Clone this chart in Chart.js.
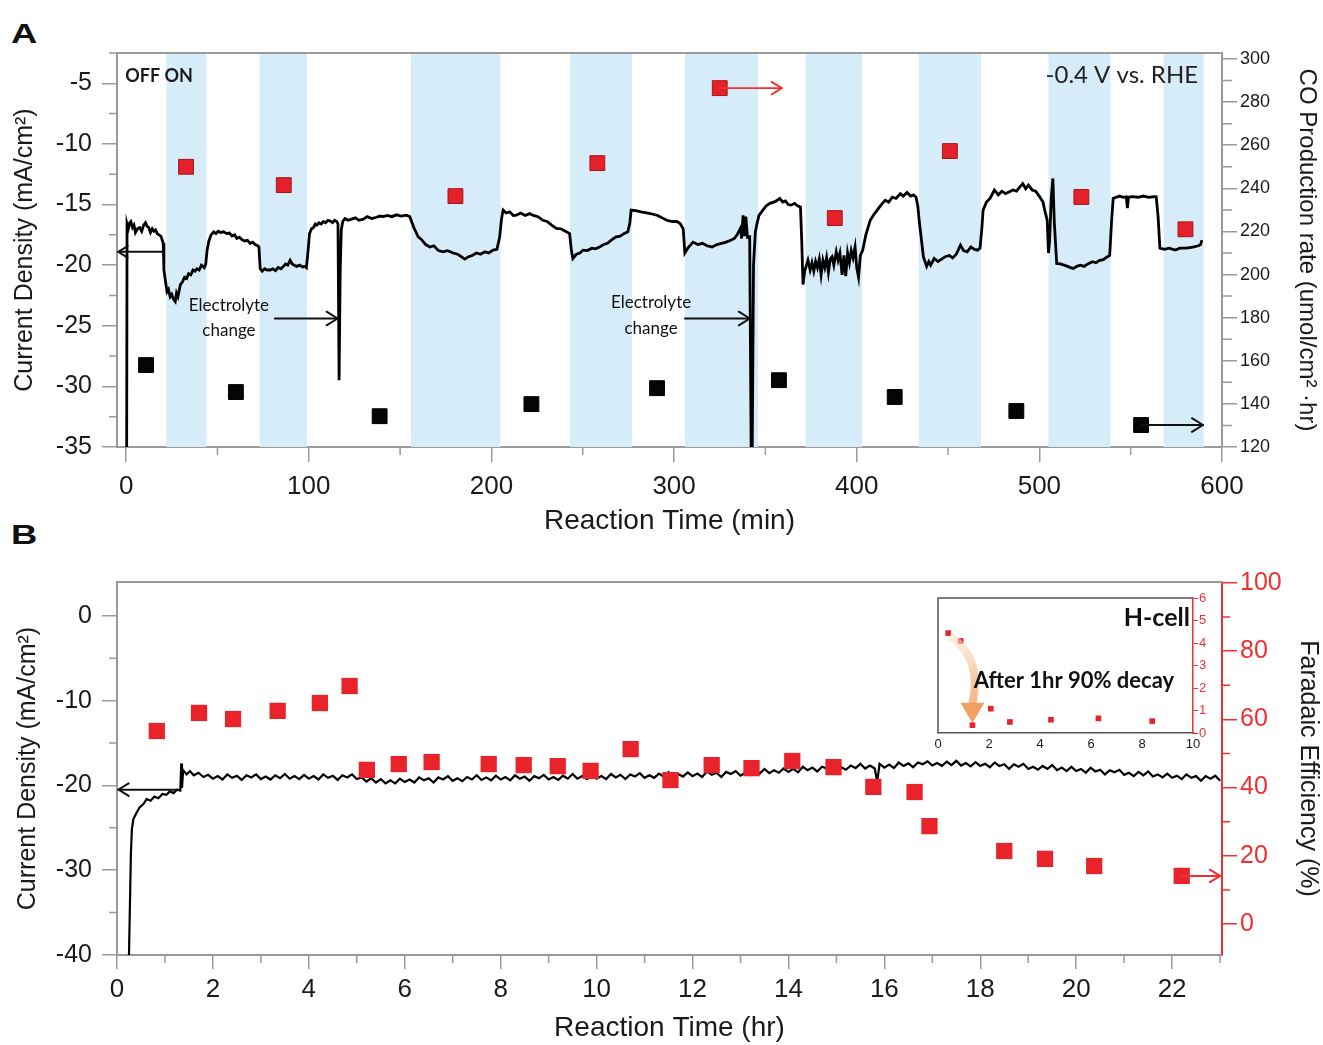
<!DOCTYPE html>
<html><head><meta charset="utf-8">
<script src="https://cdn.jsdelivr.net/npm/chart.js@4.4.1/dist/chart.umd.min.js"></script>
<style>
html,body{margin:0;padding:0;background:#fff;width:1323px;height:1045px;overflow:hidden;}
canvas{position:absolute;}
#cA{left:0;top:0;}
#cB{left:0;top:540px;}
#cI{left:920px;top:585px;}
.lbl{position:absolute;font:bold 28px "Liberation Sans",Arial,sans-serif;line-height:28px;transform:scaleX(1.3);transform-origin:left top;color:#111;}
</style></head><body>
<div class="lbl" style="left:11px;top:20px">A</div>
<div class="lbl" style="left:11px;top:521px">B</div>
<canvas id="cA" width="1323" height="540"></canvas>
<canvas id="cB" width="1323" height="505"></canvas>
<canvas id="cI" width="300" height="175"></canvas>
<script>
// ================= DATA =================
// Panel A (x: reaction time, min)
const A_xTicks = [0,100,200,300,400,500,600];
const A_xMinor = [50,150,250,350,450,550];
const A_yTicks = [-35,-30,-25,-20,-15,-10,-5];
const A_yMinor = [-32.5,-27.5,-22.5,-17.5,-12.5,-7.5,-2.5];
const A_y2Ticks = [120,140,160,180,200,220,240,260,280,300];
const A_y2Minor = [130,150,170,190,210,230,250,270,290];
const A_bandStart = [22,73,156,243,306,372,434,505,568];
const A_bandEnd   = [44,99,205,277,346,403,468,539,590];
const A_redTime  = [32.8,86.3,180.3,258,325,388,451,523,580];
const A_redRate  = [250,241.5,236.4,251.7,286.5,226.2,257.3,236,221];
const A_blackTime = [10.9,60.1,138.8,221.9,290.7,357.4,420.8,487.4,555.7];
const A_blackRate = [158,145.5,134.3,139.9,147.3,151,143.2,136.7,130.2];
const A_currentTrace = [
[0.3,-35],[0.5,-16.6],[1.2,-17.0],[2.0,-16.5],[2.6,-16.4],[3.5,-16.9],[4.3,-16.7],[5.1,-17.3],[6.2,-17.0],[7.4,-16.9],[8.5,-17.2],[9.6,-16.7],[10.6,-16.5],[11.5,-16.8],[12.4,-16.9],[13.3,-17.3],[14.3,-17.0],[15.2,-17.2],[16.1,-17.1],[17.0,-17.4],[18.0,-17.5],[19.0,-17.6],[19.7,-17.9],[20.3,-18.2],[20.7,-20.4],[21.5,-21.3],[22.4,-22.2],[23.2,-22.0],[24.1,-22.6],[25.0,-22.4],[25.9,-22.8],[26.9,-23.0],[27.6,-22.3],[28.4,-22.6],[29.7,-21.6],[30.8,-21.4],[32.0,-21.0],[33.1,-21.1],[34.2,-20.7],[35.4,-20.8],[36.6,-20.4],[37.7,-20.5],[38.8,-20.3],[40.0,-20.4],[41.2,-20.0],[42.8,-20.2],[43.6,-19.9],[44.3,-18.8],[45.3,-18.0],[46.5,-17.5],[47.9,-17.25],[49.2,-17.4],[50.4,-17.2],[51.7,-17.3],[53.4,-17.25],[55.0,-17.4],[56.5,-17.35],[58.0,-17.6],[59.4,-17.5],[60.6,-17.8],[62.0,-17.7],[63.5,-17.9],[65.0,-18.0],[66.4,-17.95],[67.9,-18.2],[69.3,-18.1],[70.6,-18.3],[72.0,-18.4],[72.7,-18.5],[73.4,-20.3],[74.5,-20.5],[75.8,-20.3],[77.2,-20.4],[78.9,-20.4],[80.3,-20.3],[81.8,-20.45],[83.2,-20.2],[84.7,-20.3],[86.2,-20.1],[87.3,-19.9],[88.5,-20.0],[89.8,-19.6],[90.9,-19.9],[92.1,-20.0],[93.4,-20.1],[95.0,-20.0],[96.6,-20.15],[98.0,-20.1],[98.7,-20.2],[99.5,-19.0],[100.4,-17.4],[101.5,-17.0],[102.6,-16.9],[103.6,-16.6],[104.4,-16.7],[105.6,-16.5],[106.8,-16.6],[108.0,-16.4],[109.2,-16.5],[110.5,-16.3],[111.7,-16.35],[113.0,-16.5],[114.2,-16.3],[115.3,-16.4],[116.0,-16.6],[116.6,-29.5],[117.2,-20.5],[117.8,-17.1],[118.6,-16.4],[119.8,-16.15],[121.5,-16.3],[123.5,-16.2],[125.5,-16.1],[127.5,-16.3],[129.9,-16.2],[132.0,-16.0],[134.5,-16.15],[137.0,-16.05],[139.0,-15.95],[140.8,-16.0],[143.0,-15.9],[145.5,-16.0],[148.0,-15.85],[150.5,-15.95],[153.5,-15.88],[155.3,-16.0],[157.5,-16.9],[159.9,-17.66],[161.8,-17.9],[164.0,-18.3],[166.3,-18.5],[168.5,-18.4],[171.0,-18.8],[173.6,-18.9],[176.0,-18.8],[179.1,-19.0],[181.5,-19.1],[183.5,-19.3],[185.4,-19.5],[187.5,-19.3],[189.5,-19.2],[191.8,-19.0],[194.0,-19.1],[196.5,-18.9],[198.5,-19.0],[200.9,-18.76],[203.0,-18.7],[204.5,-17.7],[205.5,-16.2],[206.4,-15.46],[208.0,-15.7],[210.0,-15.6],[212.0,-15.9],[213.7,-15.88],[216.0,-15.7],[218.5,-15.9],[220.9,-15.75],[223.0,-15.9],[225.5,-16.0],[228.2,-16.3],[230.5,-16.4],[233.0,-16.7],[235.5,-16.97],[238.0,-17.0],[240.5,-17.2],[242.8,-17.4],[243.8,-18.8],[244.6,-19.45],[246.5,-19.1],[248.5,-19.0],[250.1,-18.76],[252.5,-18.8],[255.0,-18.6],[257.0,-18.65],[259.2,-18.5],[261.5,-18.3],[263.5,-18.2],[266.0,-17.9],[268.3,-17.66],[270.5,-17.6],[272.5,-17.4],[274.7,-17.25],[275.8,-16.5],[276.5,-15.46],[279.0,-15.5],[282.0,-15.6],[285.7,-15.7],[288.5,-15.8],[291.0,-15.9],[293.5,-16.1],[296.0,-16.3],[299.0,-16.4],[301.5,-16.4],[303.3,-16.56],[305.0,-17.0],[305.9,-19.0],[307.5,-18.6],[310.4,-18.1],[313.0,-18.3],[315.5,-18.2],[318.0,-18.4],[320.8,-18.5],[323.5,-18.3],[326.0,-18.2],[328.5,-18.1],[331.1,-17.94],[333.0,-17.8],[334.5,-17.5],[336.3,-16.97],[337.0,-17.8],[337.8,-15.9],[338.5,-17.6],[339.3,-16.0],[340.2,-17.7],[341.4,-17.66],[342.2,-35],[342.8,-35],[343.5,-20.0],[344.5,-17.25],[345.5,-16.5],[346.5,-15.9],[348.6,-15.46],[350.5,-15.1],[352.5,-14.9],[354.5,-14.8],[356.0,-14.7],[357.9,-14.5],[359.5,-14.8],[361.0,-14.7],[362.5,-15.0],[364.1,-15.05],[366.0,-14.9],[367.5,-15.1],[369.2,-15.2],[369.9,-18.0],[370.6,-21.6],[371.5,-20.5],[373.3,-19.6],[374.5,-20.4],[375.5,-19.8],[376.5,-20.5],[377.5,-19.7],[378.5,-20.2],[379.5,-19.5],[380.5,-20.8],[381.5,-19.6],[382.5,-20.2],[383.5,-19.4],[384.5,-20.6],[385.5,-19.5],[386.5,-19.3],[387.5,-20.0],[388.8,-18.9],[389.8,-19.6],[390.8,-19.0],[392.0,-20.8],[393.0,-19.2],[394.0,-20.9],[395.0,-19.0],[396.0,-19.8],[397.0,-18.8],[398.0,-19.4],[399.1,-18.5],[400.0,-20.2],[401.0,-21.0],[402.0,-19.2],[403.3,-18.76],[405.0,-17.5],[407.4,-16.3],[409.5,-15.8],[411.5,-15.4],[413.5,-15.0],[415.6,-14.64],[417.5,-14.8],[419.5,-14.4],[421.5,-14.5],[423.9,-14.1],[425.5,-14.3],[427.5,-14.0],[429.5,-14.3],[431.1,-14.2],[432.5,-14.4],[433.5,-15.2],[434.2,-16.3],[435.5,-18.0],[436.5,-19.3],[438.3,-20.1],[439.5,-19.7],[440.5,-20.0],[442.4,-19.45],[444.5,-19.7],[446.5,-19.5],[448.5,-19.3],[450.7,-19.2],[452.5,-19.4],[454.5,-19.1],[456.8,-18.35],[458.5,-18.8],[460.5,-18.9],[462.5,-18.5],[464.5,-18.7],[466.1,-18.76],[467.5,-18.6],[468.5,-17.0],[469.2,-15.46],[471.0,-14.8],[473.0,-14.5],[475.4,-13.8],[477.5,-14.2],[479.5,-13.9],[481.5,-14.1],[483.6,-13.95],[485.5,-13.8],[487.5,-13.9],[489.0,-13.6],[490.9,-13.27],[492.5,-13.7],[494.0,-13.4],[496.1,-13.8],[498.0,-13.9],[500.2,-14.37],[502.0,-14.8],[503.0,-15.5],[504.3,-16.3],[505.0,-19.0],[505.6,-18.0],[506.5,-14.5],[507.4,-12.85],[508.2,-16.5],[509.5,-19.86],[511.5,-19.9],[513.5,-20.0],[515.5,-20.1],[517.0,-20.2],[518.7,-20.27],[520.5,-20.1],[522.5,-20.0],[524.5,-20.1],[526.5,-19.9],[529.1,-19.72],[531.0,-19.8],[533.0,-19.6],[535.0,-19.55],[537.3,-19.3],[538.5,-19.2],[539.5,-16.5],[540.4,-14.5],[542.0,-14.4],[544.0,-14.3],[546.0,-14.4],[547.6,-14.37],[548.2,-15.3],[548.8,-14.4],[551.0,-14.35],[554.0,-14.4],[557.0,-14.3],[560.0,-14.4],[562.5,-14.35],[564.0,-14.37],[565.0,-16.0],[566.0,-18.6],[568.5,-18.7],[571.0,-18.6],[574.4,-18.76],[577.0,-18.6],[580.0,-18.6],[582.5,-18.55],[584.7,-18.5],[587.0,-18.4],[588.3,-18.3],[589.0,-17.94]
];

// Panel B (x: reaction time, hr)
const B_xTicks = [0,2,4,6,8,10,12,14,16,18,20,22];
const B_xMinor = [1,3,5,7,9,11,13,15,17,19,21,23];
const B_yTicks = [-40,-30,-20,-10,0];
const B_yMinor = [-35,-25,-15,-5];
const B_y2Ticks = [0,20,40,60,80,100];
const B_y2Minor = [10,30,50,70,90];
const B_feTime = [0.83,1.71,2.42,3.35,4.23,4.85,5.21,5.875,6.56,7.75,8.48,9.19,9.875,10.71,11.54,12.4,13.23,14.08,14.94,15.77,16.63,16.94,18.5,19.35,20.375,22.2];
const B_fe     = [56.6,61.9,60.1,62.5,64.8,69.8,45.2,46.9,47.5,46.9,46.6,46.3,44.9,51.3,42.2,46.6,45.7,47.8,46.0,40.2,38.7,28.7,21.4,19.1,17.0,14.1];
const B_currentTrace = [
[0.25,-40],[0.27,-34],[0.29,-28],[0.31,-25.2],[0.34,-24.0],[0.4,-23.3],[0.47,-22.6],[0.55,-22.2],[0.62,-21.6],[0.7,-21.8],[0.78,-21.3],[0.86,-21.5],[0.95,-21.0],[1.03,-21.1],[1.1,-20.7],[1.18,-20.9],[1.25,-20.5],[1.32,-20.6],[1.34,-17.4],[1.355,-20.3],[1.38,-18.2],[1.45,-18.7],[1.52,-18.3],[1.6,-18.8],[1.7,-18.5],[1.8,-19.0],
[1.9,-18.75],[2.0,-19.2],[2.1,-18.9],[2.2,-19.3],[2.3,-18.7],[2.4,-19.1],[2.5,-18.85],[2.6,-19.35],[2.7,-18.8],[2.8,-19.05],[2.9,-18.7],[3.0,-19.25],[3.1,-18.95],[3.2,-19.3],[3.3,-18.8],[3.4,-19.15],[3.5,-18.65],[3.6,-19.2],[3.7,-18.9],[3.8,-19.25],[3.9,-18.75],[4.0,-19.2],[4.1,-18.9],[4.2,-19.3],[4.3,-18.7],[4.4,-19.1],[4.5,-18.85],[4.6,-19.35],[4.7,-18.8],[4.8,-19.05],[4.9,-18.7],[5.0,-19.25],[5.1,-19.05],[5.2,-19.55],[5.3,-19.15],[5.4,-19.65],[5.5,-19.25],[5.6,-19.75],[5.7,-19.4],[5.8,-19.75],[5.9,-19.2],[6.0,-19.6],[6.1,-19.3],[6.2,-19.65],[6.3,-19.05],[6.4,-19.4],[6.5,-19.15],[6.6,-19.65],[6.7,-19.05],[6.8,-19.3],[6.9,-18.9],[7.0,-19.45],[7.1,-19.15],[7.2,-19.5],[7.3,-19.0],[7.4,-19.3],[7.5,-18.8],[7.6,-19.35],[7.7,-19.05],[7.8,-19.4],[7.9,-18.85],[8.0,-19.3],[8.1,-19.0],[8.2,-19.4],[8.3,-18.8],[8.4,-19.2],[8.5,-18.95],[8.6,-19.45],[8.7,-18.9],[8.8,-19.15],[8.9,-18.75],[9.0,-19.3],[9.1,-19.0],[9.2,-19.35],[9.3,-18.85],[9.4,-19.2],[9.5,-18.65],[9.6,-19.2],[9.7,-18.9],[9.8,-19.25],[9.9,-18.75],[10.0,-19.2],[10.1,-18.9],[10.2,-19.25],[10.3,-18.65],[10.4,-19.05],[10.5,-18.75],[10.6,-19.25],[10.7,-18.7],[10.8,-18.95],[10.9,-18.55],[11.0,-19.1],[11.1,-18.8],[11.2,-19.1],[11.3,-18.6],[11.4,-18.95],[11.5,-18.45],[11.6,-18.95],[11.7,-18.65],[11.8,-18.95],[11.9,-18.45],[12.0,-18.9],[12.1,-18.6],[12.2,-19.0],[12.3,-18.35],[12.4,-18.75],[12.5,-18.5],[12.6,-19.0],[12.7,-18.4],[12.8,-18.65],[12.9,-18.3],[13.0,-18.85],[13.1,-18.5],[13.2,-18.8],[13.3,-18.3],[13.4,-18.6],[13.5,-18.05],[13.6,-18.55],[13.7,-18.2],[13.8,-18.5],[13.9,-18.0],[14.0,-18.4],[14.1,-18.05],[14.2,-18.45],[14.3,-17.8],[14.4,-18.2],[14.5,-17.9],[14.6,-18.35],[14.7,-17.8],[14.8,-18.0],[14.9,-17.65],[15.0,-18.15],[15.1,-17.85],[15.2,-18.15],[15.3,-17.65],[15.4,-17.95],[15.5,-17.45],[15.6,-18.0],[15.7,-17.65],[15.8,-18.0],[15.85,-19.6],[15.9,-17.45],[16.0,-17.9],[16.1,-17.55],[16.2,-17.95],[16.3,-17.3],[16.4,-17.7],[16.5,-17.4],[16.6,-17.85],[16.7,-17.3],[16.8,-17.5],[16.9,-17.15],[17.0,-17.65],[17.1,-17.35],[17.2,-17.7],[17.3,-17.2],[17.4,-17.6],[17.5,-17.1],[17.6,-17.65],[17.7,-17.35],[17.8,-17.75],[17.9,-17.25],[18.0,-17.7],[18.1,-17.45],[18.2,-17.85],[18.3,-17.3],[18.4,-17.7],[18.5,-17.5],[18.6,-18.05],[18.7,-17.5],[18.8,-17.8],[18.9,-17.45],[19.0,-18.05],[19.1,-17.8],[19.2,-18.15],[19.3,-17.7],[19.4,-18.05],[19.5,-17.6],[19.6,-18.2],[19.7,-17.9],[19.8,-18.3],[19.9,-17.8],[20.0,-18.3],[20.1,-18.05],[20.2,-18.5],[20.3,-17.9],[20.4,-18.35],[20.5,-18.15],[20.6,-18.7],[20.7,-18.2],[20.8,-18.45],[20.9,-18.15],[21.0,-18.75],[21.1,-18.5],[21.2,-18.9],[21.3,-18.4],[21.4,-18.8],[21.5,-18.35],[21.6,-18.95],[21.7,-18.7],[21.8,-19.05],[21.9,-18.6],[22.0,-19.1],[22.1,-18.85],[22.2,-19.25],[22.3,-18.7],[22.4,-19.1],[22.5,-18.9],[22.6,-19.45],[22.7,-18.9],[22.8,-19.2],[22.9,-18.85],[23.0,-19.45]
];

// Inset (H-cell)
const I_xTicks = [0,2,4,6,8,10];
const I_yTicks = [0,1,2,3,4,5,6];
const I_time = [0.4,0.89,1.35,2.07,2.82,4.43,6.29,8.4];
const I_rate = [4.44,4.09,0.35,1.08,0.49,0.59,0.65,0.53];

// ================= STYLE / HELPERS =================
const FONT = '"Liberation Sans", Arial, sans-serif';
const CAL = 'Lato, "Open Sans", sans-serif';
const AX = '#9a9a9a';
const RED = '#f03030';
const TXT = '#1a1a1a';
Chart.defaults.font.family = FONT;

const minorTicksPlugin = {
  id: 'minorTicks',
  afterDraw(chart, args, opts) {
    const ctx = chart.ctx;
    (opts.list || []).forEach(m => {
      const s = chart.scales[m.axis];
      ctx.save(); ctx.strokeStyle = m.color; ctx.lineWidth = m.width || 1.5;
      ctx.beginPath();
      m.values.forEach(v => {
        const p = s.getPixelForValue(v);
        if (s.position === 'bottom') { ctx.moveTo(p, s.top); ctx.lineTo(p, s.top + m.len); }
        else if (s.position === 'left') { ctx.moveTo(s.right, p); ctx.lineTo(s.right - m.len, p); }
        else { ctx.moveTo(s.left, p); ctx.lineTo(s.left + m.len, p); }
      });
      ctx.stroke(); ctx.restore();
    });
  }
};

function arrow(ctx, x1, y1, x2, y2, color, width, head) {
  ctx.save(); ctx.strokeStyle = color; ctx.lineWidth = width; ctx.lineCap = 'round'; ctx.lineJoin = 'round';
  ctx.beginPath(); ctx.moveTo(x1, y1); ctx.lineTo(x2, y2); ctx.stroke();
  const a = Math.atan2(y2 - y1, x2 - x1);
  ctx.beginPath();
  ctx.moveTo(x2 - head * Math.cos(a - 0.55), y2 - head * Math.sin(a - 0.55));
  ctx.lineTo(x2, y2);
  ctx.lineTo(x2 - head * Math.cos(a + 0.55), y2 - head * Math.sin(a + 0.55));
  ctx.stroke(); ctx.restore();
}
function topBorder(chart, color, w) {
  const {ctx, chartArea: ca} = chart;
  ctx.save(); ctx.strokeStyle = color; ctx.lineWidth = w;
  ctx.beginPath(); ctx.moveTo(ca.left - 1, ca.top); ctx.lineTo(ca.right + 1, ca.top); ctx.stroke(); ctx.restore();
}
function label(ctx, text, x, y, font, align, color, maxW) {
  ctx.save(); ctx.font = font; ctx.fillStyle = color || TXT; ctx.textAlign = align || 'center'; ctx.textBaseline = 'middle';
  if (maxW) ctx.fillText(text, x, y, maxW); else ctx.fillText(text, x, y);
  ctx.restore();
}
const setTicks = arr => s => { s.ticks = arr.map(v => ({value: v})); };
const fmt = v => String(v);

// ================= PANEL A =================
const panelAPlugin = {
  id: 'panelA',
  beforeDatasetsDraw(chart) {
    const {ctx, chartArea: ca, scales: {x}} = chart;
    ctx.save(); ctx.fillStyle = '#d7ecf9';
    A_bandStart.forEach((s, i) => {
      const x1 = x.getPixelForValue(s), x2 = x.getPixelForValue(A_bandEnd[i]);
      ctx.fillRect(x1, ca.top, x2 - x1, ca.bottom - ca.top);
    });
    ctx.restore();
  },
  afterDatasetsDraw(chart) {
    const {ctx, scales: {x, y, y2}} = chart;
    topBorder(chart, AX, 2);
    label(ctx, 'OFF ON', x.getPixelForValue(-0.5), y.getPixelForValue(-4.42), 'bold 18px ' + CAL, 'left');
    label(ctx, '-0.4 V vs. RHE', x.getPixelForValue(586.9), y.getPixelForValue(-4.3), '24px ' + CAL, 'right', '#222', 176);
    label(ctx, 'Electrolyte', x.getPixelForValue(56.3), y.getPixelForValue(-23.3), '17px ' + CAL, 'center', '#111', 93);
    label(ctx, 'change', x.getPixelForValue(56.3), y.getPixelForValue(-25.4), '17px ' + CAL, 'center', '#111', 64);
    label(ctx, 'Electrolyte', x.getPixelForValue(287.4), y.getPixelForValue(-23.1), '17px ' + CAL, 'center', '#111', 93);
    label(ctx, 'change', x.getPixelForValue(287.4), y.getPixelForValue(-25.2), '17px ' + CAL, 'center', '#111', 64);
    const ay = y.getPixelForValue(-24.4);
    arrow(ctx, x.getPixelForValue(81.4), ay, x.getPixelForValue(115.8), ay, '#111', 2, 13);
    arrow(ctx, x.getPixelForValue(306), ay, x.getPixelForValue(341.5), ay, '#111', 2, 13);
    const ly = y.getPixelForValue(-18.9);
    arrow(ctx, x.getPixelForValue(20.5), ly, x.getPixelForValue(-4.3), ly, '#111', 2, 11);
    const ry = y2.getPixelForValue(A_redRate[4]);
    arrow(ctx, x.getPixelForValue(A_redTime[4]), ry, x.getPixelForValue(359), ry, RED, 1.8, 12);
    const by = y2.getPixelForValue(A_blackRate[8]);
    arrow(ctx, x.getPixelForValue(A_blackTime[8]), by, x.getPixelForValue(589.6), by, '#111', 2, 13);
  }
};

new Chart(document.getElementById('cA'), {
  type: 'scatter',
  data: { datasets: [
    { data: A_redTime.map((t, i) => ({x: t, y: A_redRate[i]})), yAxisID: 'y2', pointStyle: 'rect', pointRadius: 10.5,
      backgroundColor: '#e4202a', borderColor: '#a01818', borderWidth: 1, order: 0 },
    { data: A_blackTime.map((t, i) => ({x: t, y: A_blackRate[i]})), yAxisID: 'y2', pointStyle: 'rect', pointRadius: 10.5,
      backgroundColor: '#050505', borderColor: '#000', borderWidth: 1, order: 0 },
    { data: A_currentTrace.map(p => ({x: p[0], y: p[1]})), yAxisID: 'y', showLine: true, pointRadius: 0,
      borderColor: '#000', borderWidth: 2.8, tension: 0, order: 1 }
  ]},
  options: {
    responsive: false, animation: false, devicePixelRatio: 1, events: [],
    layout: { padding: { top: 53, left: 0, right: 0, bottom: 0 } },
    plugins: { legend: { display: false }, tooltip: { enabled: false },
      minorTicks: { list: [
        { axis: 'x', values: A_xMinor, len: 8, color: AX },
        { axis: 'y', values: A_yMinor, len: 8, color: AX },
        { axis: 'y2', values: A_y2Minor, len: 10, color: AX }
      ]}
    },
    scales: {
      x: { type: 'linear', position: 'bottom', min: -5, max: 600, afterBuildTicks: setTicks(A_xTicks), afterFit: s => { s.height = 93; },
        grid: { drawOnChartArea: false, tickLength: 15, color: AX, lineWidth: 1.5 }, border: { color: AX, width: 2 },
        ticks: { font: { size: 26 }, color: TXT, padding: 9, maxRotation: 0, callback: fmt },
        title: { display: true, text: 'Reaction Time (min)', font: { size: 28 }, color: TXT, padding: { top: 0, bottom: 2 } } },
      y: { type: 'linear', position: 'left', min: -35, max: -2.5, afterBuildTicks: setTicks(A_yTicks), afterFit: s => { s.width = 117; },
        grid: { drawOnChartArea: false, tickLength: 15, color: AX, lineWidth: 1.5 }, border: { color: AX, width: 2 },
        ticks: { font: { size: 25 }, color: TXT, padding: 10, callback: fmt },
        title: { display: true, text: 'Current Density (mA/cm²)', font: { size: 25 }, color: TXT, padding: { top: 10, bottom: 0 } } },
      y2: { type: 'linear', position: 'right', min: 120, max: 302.8, afterBuildTicks: setTicks(A_y2Ticks), afterFit: s => { s.width = 101; },
        grid: { drawOnChartArea: false, tickLength: 15, color: AX, lineWidth: 1.5 }, border: { color: AX, width: 2 },
        ticks: { font: { size: 18 }, color: TXT, padding: 3, callback: fmt },
        title: { display: true, text: 'CO Production rate (umol/cm² ·hr)', font: { size: 24 }, color: TXT, padding: { top: 2, bottom: 0 } } }
    }
  },
  plugins: [panelAPlugin, minorTicksPlugin]
});

// ================= PANEL B =================
const panelBPlugin = {
  id: 'panelB',
  afterDatasetsDraw(chart) {
    const {ctx, scales: {x, y, y2}} = chart;
    topBorder(chart, AX, 2);
    const ly = y.getPixelForValue(-20.5);
    arrow(ctx, x.getPixelForValue(1.3), ly, x.getPixelForValue(0.03), ly, '#111', 2, 12);
    const ry = y2.getPixelForValue(B_fe[B_fe.length - 1]);
    arrow(ctx, x.getPixelForValue(B_feTime[B_feTime.length - 1]), ry, x.getPixelForValue(23.0), ry, RED, 2, 12);
  }
};

new Chart(document.getElementById('cB'), {
  type: 'scatter',
  data: { datasets: [
    { data: B_feTime.map((t, i) => ({x: t, y: B_fe[i]})), yAxisID: 'y2', pointStyle: 'rect', pointRadius: 11.5,
      backgroundColor: '#e8232a', borderColor: '#e8232a', borderWidth: 0, order: 0 },
    { data: B_currentTrace.map(p => ({x: p[0], y: p[1]})), yAxisID: 'y', showLine: true, pointRadius: 0,
      borderColor: '#000', borderWidth: 2.2, tension: 0, order: 1 }
  ]},
  options: {
    responsive: false, animation: false, devicePixelRatio: 1, events: [],
    layout: { padding: { top: 42, left: 0, right: 0, bottom: 0 } },
    plugins: { legend: { display: false }, tooltip: { enabled: false },
      minorTicks: { list: [
        { axis: 'x', values: B_xMinor, len: 8, color: AX },
        { axis: 'y', values: B_yMinor, len: 8, color: AX },
        { axis: 'y2', values: B_y2Minor, len: 8, color: RED }
      ]}
    },
    scales: {
      x: { type: 'linear', position: 'bottom', min: 0, max: 23.04, afterBuildTicks: setTicks(B_xTicks), afterFit: s => { s.height = 90; },
        grid: { drawOnChartArea: false, tickLength: 14, color: AX, lineWidth: 1.5 }, border: { color: AX, width: 2 },
        ticks: { font: { size: 26 }, color: TXT, padding: 5, maxRotation: 0, callback: fmt },
        title: { display: true, text: 'Reaction Time (hr)', font: { size: 28 }, color: TXT, padding: { top: 0, bottom: 0 } } },
      y: { type: 'linear', position: 'left', min: -40, max: 4, afterBuildTicks: setTicks(B_yTicks), afterFit: s => { s.width = 117; },
        grid: { drawOnChartArea: false, tickLength: 15, color: AX, lineWidth: 1.5 }, border: { color: AX, width: 2 },
        ticks: { font: { size: 25 }, color: TXT, padding: 10, callback: fmt },
        title: { display: true, text: 'Current Density (mA/cm²)', font: { size: 25 }, color: TXT, padding: { top: 13, bottom: 0 } } },
      y2: { type: 'linear', position: 'right', min: -9.1, max: 100.3, afterBuildTicks: setTicks(B_y2Ticks), afterFit: s => { s.width = 101; },
        grid: { drawOnChartArea: false, tickLength: 15, color: RED, lineWidth: 1.5 }, border: { color: RED, width: 2 },
        ticks: { font: { size: 25 }, color: RED, padding: 3, callback: fmt },
        title: { display: true, text: 'Faradaic Efficiency (%)', font: { size: 25 }, color: TXT, padding: { top: 0, bottom: 0 } } }
    }
  },
  plugins: [panelBPlugin, minorTicksPlugin]
});

// ================= INSET =================
const insetPlugin = {
  id: 'inset',
  afterDatasetsDraw(chart) {
    const {ctx, chartArea: ca, scales: {x, y}} = chart;
    ctx.save(); ctx.strokeStyle = '#555'; ctx.lineWidth = 1.5;
    ctx.beginPath(); ctx.moveTo(ca.left, ca.bottom); ctx.lineTo(ca.left, ca.top); ctx.lineTo(ca.right, ca.top); ctx.stroke();
    ctx.restore();
    // curved orange arrow
    const sx = x.getPixelForValue(0.45), sy = y.getPixelForValue(4.3);
    const cx = x.getPixelForValue(1.75), cy = y.getPixelForValue(3.4);
    const ex = x.getPixelForValue(1.35), ey = y.getPixelForValue(1.3);
    const tipY = y.getPixelForValue(0.45);
    const g = ctx.createLinearGradient(sx, sy, ex, tipY);
    g.addColorStop(0, 'rgba(252,225,200,0.55)'); g.addColorStop(1, 'rgba(240,150,80,0.9)');
    ctx.save();
    ctx.strokeStyle = g; ctx.lineWidth = 8; ctx.lineCap = 'butt';
    ctx.beginPath(); ctx.moveTo(sx, sy); ctx.quadraticCurveTo(cx, cy, ex, ey); ctx.stroke();
    ctx.fillStyle = 'rgba(240,150,80,0.9)';
    ctx.beginPath(); ctx.moveTo(ex - 12, ey - 1); ctx.lineTo(ex + 12, ey - 1); ctx.lineTo(ex, tipY); ctx.closePath(); ctx.fill();
    ctx.restore();
    label(ctx, 'H-cell', x.getPixelForValue(9.88), y.getPixelForValue(5.12), 'bold 25px ' + CAL, 'right', '#111');
    label(ctx, 'After 1hr 90% decay', x.getPixelForValue(5.33), y.getPixelForValue(2.33), 'bold 22px ' + CAL, 'center', '#111', 222);
  }
};

new Chart(document.getElementById('cI'), {
  type: 'scatter',
  data: { datasets: [
    { data: I_time.map((t, i) => ({x: t, y: I_rate[i]})), yAxisID: 'y', pointStyle: 'rect', pointRadius: 4,
      backgroundColor: '#e8232a', borderWidth: 0 }
  ]},
  options: {
    responsive: false, animation: false, devicePixelRatio: 1, events: [],
    layout: { padding: { top: 13, left: 18, right: 0, bottom: 0 } },
    plugins: { legend: { display: false }, tooltip: { enabled: false } },
    scales: {
      x: { type: 'linear', position: 'bottom', min: 0, max: 10, afterBuildTicks: setTicks(I_xTicks), afterFit: s => { s.height = 27; },
        grid: { drawOnChartArea: false, drawTicks: false }, border: { color: '#555', width: 1.5 },
        ticks: { font: { size: 13 }, color: TXT, padding: 4, maxRotation: 0, callback: fmt } },
      y: { type: 'linear', position: 'right', min: 0, max: 6, afterBuildTicks: setTicks(I_yTicks), afterFit: s => { s.width = 27; },
        grid: { drawOnChartArea: false, tickLength: 5, color: RED, lineWidth: 1 }, border: { color: RED, width: 1.5 },
        ticks: { font: { size: 13 }, color: RED, padding: 1, callback: fmt } }
    }
  },
  plugins: [insetPlugin]
});
</script>
</body></html>
